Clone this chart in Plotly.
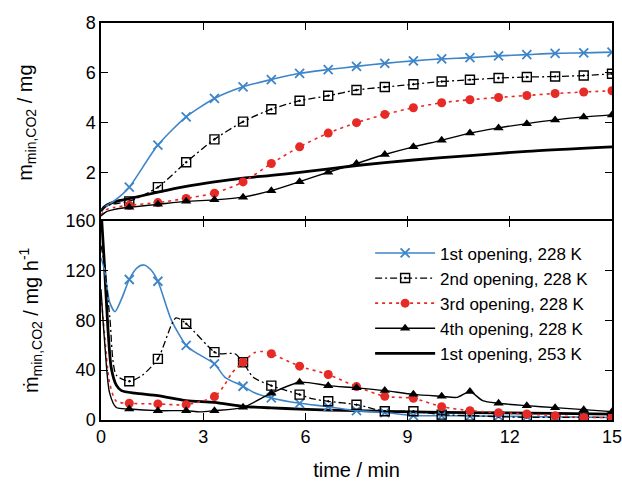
import plotly.graph_objects as go
from plotly.subplots import make_subplots

# ---------------- data ----------------
marker_t = [0.83, 1.67, 2.5, 3.33, 4.17, 5.0, 5.83, 6.67, 7.5, 8.33, 9.17,
            10.0, 10.83, 11.67, 12.5, 13.33, 14.17, 15.0]

series_names = ["1st opening, 228 K", "2nd opening, 228 K", "3rd opening, 228 K",
                "4th opening, 228 K", "1st opening, 253 K"]

# upper panel: accumulated mass (mg)
m1_mk = [1.41, 3.10, 4.23, 4.97, 5.44, 5.73, 5.98, 6.13, 6.26, 6.38, 6.48, 6.56, 6.61, 6.68, 6.73, 6.78, 6.80, 6.83]
m1_ex_t = [0, 0.1, 0.3, 0.5]
m1_ex = [0.45, 0.6, 0.78, 0.98]

m2_mk = [0.84, 1.41, 2.41, 3.33, 4.04, 4.54, 4.88, 5.08, 5.31, 5.43, 5.54, 5.65, 5.72, 5.79, 5.83, 5.85, 5.89, 5.96]
m2_ex_t = [0, 0.1, 0.3]
m2_ex = [0.45, 0.6, 0.72]

m3_mk = [0.68, 0.79, 0.96, 1.17, 1.62, 2.36, 3.03, 3.58, 4.0, 4.33, 4.60, 4.80, 4.92, 5.01, 5.09, 5.17, 5.23, 5.28]
m3_ex_t = [0, 0.15, 0.4]
m3_ex = [0.3, 0.5, 0.6]

m4_mk = [0.60, 0.72, 0.84, 0.90, 1.01, 1.27, 1.63, 2.01, 2.36, 2.72, 3.03, 3.29, 3.58, 3.79, 3.96, 4.11, 4.23, 4.31]
m4_ex_t = [0, 0.15, 0.4]
m4_ex = [0.25, 0.42, 0.52]

m5_t = [0, 0.1, 0.26, 0.5, 0.83, 1.67, 2.5, 3.33, 4.17, 5.0, 5.83, 7.5, 9.17, 10.83, 12.5, 15]
m5 = [0.45, 0.62, 0.75, 0.86, 0.95, 1.21, 1.44, 1.62, 1.77, 1.88, 2.0, 2.28, 2.5, 2.68, 2.85, 3.03]

# lower panel: mass flow (mg/h)
r1_mk = [112.8, 111.4, 59.9, 45.1, 27.1, 17.7, 13.4, 10.7, 7.5, 6.0, 3.5, 3.5, 3.2, 3.0, 2.8, 2.5, 2.3, 2.0]
r1_ex_t = [0, 0.1, 0.25, 0.41, 0.6, 1.05, 1.25, 1.45, 2.07, 2.76, 3.64, 4.47]
r1_ex = [130, 121, 95, 87, 97, 122, 124.5, 121, 80, 54.5, 34.3, 22.3]

r2_mk = [31.1, 49.1, 77.3, 54.5, 46.4, 27.6, 20.4, 15.0, 12.3, 7.0, 7.0, 4.3, 3.5, 2.7, 2.1, 2.1, 2.1, 2.1]
r2_ex_t = [0, 0.1, 0.26, 0.45, 1.2, 2.2, 3.49, 3.93, 4.47, 5.45, 6.23]
r2_ex = [140, 125, 82, 36, 35.7, 82, 53.2, 53.2, 34.3, 23.6, 16.9]

r3_mk = [13.4, 12.9, 12.3, 18.8, 46.4, 53.2, 43.2, 36.5, 26.8, 19.0, 17.4, 10.7, 7.5, 5.9, 4.8, 3.5, 2.1, 2.1]
r3_ex_t = [0, 0.1, 0.25, 0.45, 3.6, 3.85, 4.5, 4.75]
r3_ex = [100, 70, 30, 15, 27, 38, 54, 55]

r4_mk = [8.8, 7.5, 7.5, 7.5, 10.2, 21.5, 30.3, 27.6, 25.8, 23.6, 20.6, 19.0, 22.8, 13.4, 11.5, 9.9, 8.3, 6.7]
r4_ex_t = [0, 0.1, 0.25, 0.45, 2.9, 10.45, 11.2]
r4_ex = [105, 65, 22, 10, 6.5, 18.2, 15.6]

r5_t = [0, 0.1, 0.2, 0.3, 0.45, 0.6, 1.0, 1.67, 2.5, 3.33, 4.17, 5.0, 5.83, 6.67, 8.33, 10.0, 11.67, 13.33, 15.0]
r5 = [170, 125, 75, 42, 28, 23.6, 21.5, 19.6, 15.6, 14.2, 11.0, 9.7, 8.8, 8.0, 7.0, 6.2, 5.8, 5.3, 4.8]

x_ticks = [0, 3, 6, 9, 12, 15]
y_top_ticks = [2, 4, 6, 8]
y_bot_ticks = [0, 40, 80, 120, 160]

# ---------------- styles ----------------
BLUE = "#3d85c8"
RED = "#e62a25"
FONT = "Liberation Sans, Arial, sans-serif"

styles = [
    dict(line=dict(color=BLUE, width=1.6), marker=dict(symbol="x-thin-open", size=9, color=BLUE, line=dict(color=BLUE, width=1.8))),
    dict(line=dict(color="black", width=1.3, dash="7px,3px,2px,3px"), marker=dict(symbol="square-open-dot", size=9, color="black", line=dict(color="black", width=1.4))),
    dict(line=dict(color=RED, width=1.6, dash="3px,4px"), marker=dict(symbol="circle", size=9, color=RED)),
    dict(line=dict(color="black", width=1.4), marker=dict(symbol="triangle-up", size=9, color="black")),
    dict(line=dict(color="black", width=2.8), marker=None),
]


def merge(ex_t, ex_v, mk_v):
    pts = sorted(list(zip(ex_t, ex_v)) + list(zip(marker_t, mk_v)))
    return [p[0] for p in pts], [p[1] for p in pts]


fig = make_subplots(rows=2, cols=1, shared_xaxes=True, vertical_spacing=0)

top = [(m1_ex_t, m1_ex, m1_mk), (m2_ex_t, m2_ex, m2_mk), (m3_ex_t, m3_ex, m3_mk), (m4_ex_t, m4_ex, m4_mk)]
bot = [(r1_ex_t, r1_ex, r1_mk), (r2_ex_t, r2_ex, r2_mk), (r3_ex_t, r3_ex, r3_mk), (r4_ex_t, r4_ex, r4_mk)]

for row, sets, thick_t, thick_v in [(1, top, m5_t, m5), (2, bot, r5_t, r5)]:
    fig.add_trace(go.Scatter(x=thick_t, y=thick_v, mode="lines", line=styles[4]["line"],
                             line_shape="spline", line_smoothing=0.7, showlegend=False,
                             hoverinfo="skip"), row=row, col=1)
    for i, (ex_t, ex_v, mk) in enumerate(sets):
        xt, yv = merge(ex_t, ex_v, mk)
        fig.add_trace(go.Scatter(x=xt, y=yv, mode="lines", line=styles[i]["line"],
                                 line_shape="spline", line_smoothing=0.7, showlegend=False,
                                 hoverinfo="skip"), row=row, col=1)
        fig.add_trace(go.Scatter(x=marker_t, y=mk, mode="markers", marker=styles[i]["marker"],
                                 showlegend=False, cliponaxis=True), row=row, col=1)

# legend entries
for i, name in enumerate(series_names):
    if styles[i]["marker"] is None:
        fig.add_trace(go.Scatter(x=[None], y=[None], mode="lines", line=styles[i]["line"], name=name),
                      row=2, col=1)
    else:
        fig.add_trace(go.Scatter(x=[None], y=[None], mode="lines+markers", line=styles[i]["line"],
                                 marker=styles[i]["marker"], name=name), row=2, col=1)

axis_common = dict(showline=True, linecolor="black", linewidth=1.5, mirror="ticks",
                   ticks="inside", ticklen=7, tickwidth=1.3, tickcolor="black",
                   showgrid=False, zeroline=False, automargin=False,
                   ticklabeloverflow="allow")

fig.update_xaxes(range=[0, 15], tickvals=x_ticks, **axis_common)
fig.update_xaxes(showticklabels=False, row=1, col=1)
fig.update_xaxes(title=dict(text="time / min", font=dict(size=20, color="black"), standoff=18),
                 tickfont=dict(size=18, color="black"), row=2, col=1)

fig.update_yaxes(**axis_common)
fig.update_yaxes(range=[0, 8], tickvals=y_top_ticks,
                 tickfont=dict(size=18, color="black"),
                 title=dict(text="m<sub>min,CO2</sub> / mg", font=dict(size=20, color="black"), standoff=48),
                 domain=[0.498, 1.0], row=1, col=1)
fig.update_yaxes(range=[0, 160], tickvals=y_bot_ticks,
                 tickfont=dict(size=18, color="black"),
                 title=dict(text="ṁ<sub>min,CO2</sub> / mg h<sup>-1</sup>", font=dict(size=20, color="black"), standoff=22),
                 domain=[0.0, 0.502], row=2, col=1)

fig.update_layout(
    width=622, height=481,
    margin=dict(l=101, r=10, t=23, b=61),
    plot_bgcolor="white", paper_bgcolor="white",
    font=dict(family=FONT, color="black"),
    legend=dict(x=0.965, y=0.465, xanchor="right", yanchor="top",
                bgcolor="rgba(0,0,0,0)", font=dict(size=17, color="black"),
                traceorder="normal", itemwidth=60, tracegroupgap=0),
    showlegend=True,
)

fig.write_html("out.html")
